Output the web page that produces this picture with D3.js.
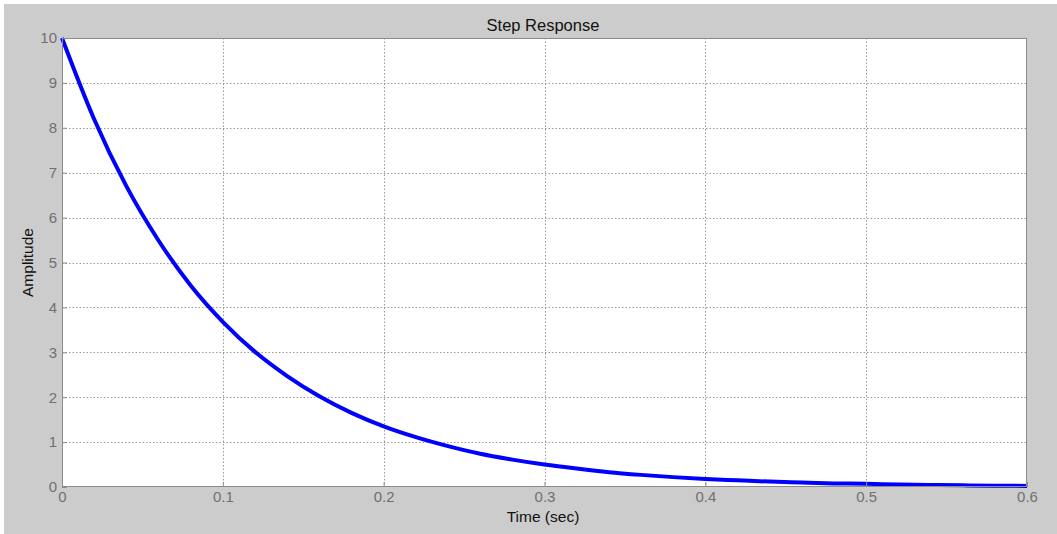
<!DOCTYPE html>
<html>
<head>
<meta charset="utf-8">
<script src="https://cdn.jsdelivr.net/npm/d3@7"></script>
<style>
  body { margin: 0; background: #fff; }
  svg { display: block; font-family: Arial, "Liberation Sans", sans-serif; }
</style>
</head>
<body>
<svg width="1057" height="534"></svg>
<script>
// time samples (sec) and amplitude
const times = [0, 0.02, 0.04, 0.06, 0.08, 0.1, 0.12, 0.14, 0.16, 0.18, 0.2,
  0.22, 0.24, 0.26, 0.28, 0.3, 0.32, 0.34, 0.36, 0.38, 0.4,
  0.42, 0.44, 0.46, 0.48, 0.5, 0.52, 0.54, 0.56, 0.58, 0.6];
const amplitude = [10, 8.19, 6.70, 5.49, 4.49, 3.68, 3.01, 2.47, 2.02, 1.65, 1.35,
  1.11, 0.91, 0.74, 0.61, 0.50, 0.41, 0.33, 0.27, 0.22, 0.18,
  0.15, 0.12, 0.10, 0.08, 0.07, 0.055, 0.045, 0.037, 0.03, 0.025];
const xTicks = [0, 0.1, 0.2, 0.3, 0.4, 0.5, 0.6];
const yTicks = [0, 1, 2, 3, 4, 5, 6, 7, 8, 9, 10];

const svg = d3.select("svg");
const plotL = 62, plotR = 1027, plotT = 38, plotB = 487;

// figure background
svg.append("rect")
  .attr("x", 4).attr("y", 4)
  .attr("width", 1053).attr("height", 530)
  .attr("fill", "#cccccc");

const x = d3.scaleLinear().domain([0, 0.6]).range([plotL, plotR]);
const y = d3.scaleLinear().domain([0, 10]).range([plotB, plotT]);

svg.append("rect")
  .attr("x", plotL).attr("y", plotT)
  .attr("width", plotR - plotL).attr("height", plotB - plotT)
  .attr("fill", "#fff");

// grid
const grid = svg.append("g")
  .attr("stroke", "#9a9a9a")
  .attr("stroke-width", 1)
  .attr("stroke-dasharray", "1.5,2");
grid.selectAll(".gx").data(xTicks.slice(1, -1)).join("line")
  .attr("x1", d => Math.round(x(d)) + 0.5).attr("x2", d => Math.round(x(d)) + 0.5)
  .attr("y1", plotT).attr("y2", plotB);
grid.selectAll(".gy").data(yTicks.slice(1, -1)).join("line")
  .attr("y1", d => Math.round(y(d)) + 0.5).attr("y2", d => Math.round(y(d)) + 0.5)
  .attr("x1", plotL).attr("x2", plotR);

// curve
const line = d3.line()
  .x((d, i) => x(times[i]))
  .y(d => y(d))
  .curve(d3.curveMonotoneX);
svg.append("path")
  .datum(amplitude)
  .attr("d", line)
  .attr("fill", "none")
  .attr("stroke", "#0000ff")
  .attr("stroke-width", 4);

// axes, ticks inside the box
const xAxis = d3.axisBottom(x).tickValues(xTicks).tickSizeInner(-5).tickSizeOuter(0)
  .tickPadding(9).tickFormat(d3.format("~g"));
const yAxis = d3.axisLeft(y).tickValues(yTicks).tickSizeInner(-5).tickSizeOuter(0)
  .tickPadding(9).tickFormat(d3.format("~g"));

const gx = svg.append("g").attr("transform", `translate(0,${plotB})`).call(xAxis);
const gy = svg.append("g").attr("transform", `translate(${plotL},0)`).call(yAxis);
[gx, gy].forEach(g => {
  g.select(".domain").remove();
  g.selectAll(".tick line").attr("stroke", "#8c8c8c");
  g.selectAll(".tick text").attr("fill", "#707070").attr("font-size", 15)
    .attr("font-family", "Arial, 'Liberation Sans', sans-serif");
});
gx.selectAll(".tick text").attr("dy", "0.4em");
gy.selectAll(".tick text").attr("dx", "4");

// box
svg.append("rect")
  .attr("x", plotL + 0.5).attr("y", plotT + 0.5)
  .attr("width", plotR - plotL - 1).attr("height", plotB - plotT - 1)
  .attr("fill", "none")
  .attr("stroke", "#8c8c8c");

// labels
svg.append("text")
  .attr("x", 543).attr("y", 31)
  .attr("text-anchor", "middle")
  .attr("font-size", 16.5).attr("fill", "#111")
  .text("Step Response");
svg.append("text")
  .attr("x", 543).attr("y", 522)
  .attr("text-anchor", "middle")
  .attr("font-size", 15.5).attr("fill", "#111")
  .text("Time (sec)");
svg.append("text")
  .attr("transform", `translate(33,${(plotT + plotB) / 2}) rotate(-90)`)
  .attr("text-anchor", "middle")
  .attr("font-size", 15.5).attr("fill", "#111")
  .text("Amplitude");
</script>
</body>
</html>
